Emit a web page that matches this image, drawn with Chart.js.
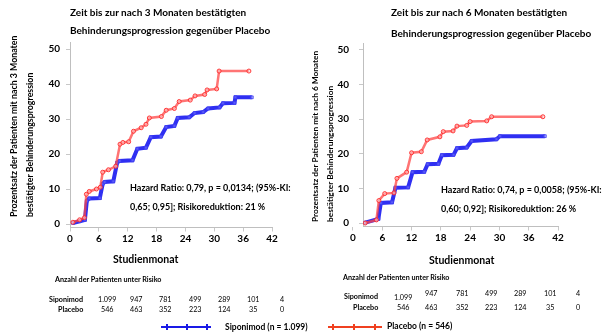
<!DOCTYPE html>
<html><head><meta charset="utf-8">
<script src="https://cdn.jsdelivr.net/npm/chart.js@4.4.1/dist/chart.umd.min.js"></script>
<style>
html,body{margin:0;padding:0;background:#fff;}
#stage{position:relative;width:604px;height:336px;overflow:hidden;font-family:Lato,"Open Sans",sans-serif;color:#000;}
canvas{position:absolute;top:0;}
.t{position:absolute;white-space:nowrap;color:#000;-webkit-font-smoothing:antialiased;}
</style></head>
<body><div id="stage">
<canvas id="c1" width="300" height="250" style="left:0px"></canvas>
<canvas id="c2" width="304" height="250" style="left:300px"></canvas>
</div>
<script>
// ---------- data ----------
const monthTicks = [0, 6, 12, 18, 24, 30, 36, 42];
const pctTicks = [0, 10, 20, 30, 40, 50];

// 3-month confirmed disability progression (left panel)
const cdp3SiponimodMonths = [0.6, 2.0, 3.1, 3.5, 4.0, 6.2, 6.8, 7.2, 9.0, 9.8, 10.3, 13.0, 14.0, 15.8, 16.8, 18.9, 20.0, 21.7, 22.4, 24.8, 25.9, 27.7, 28.7, 31.1, 31.8, 34.2, 34.4, 37.8];
const cdp3SiponimodPct    = [0.3, 0.8, 1.2, 6.6, 7.3, 7.4, 11.5, 12.0, 12.2, 17.5, 18.0, 18.2, 21.5, 21.8, 24.8, 25.0, 27.7, 28.0, 30.3, 30.5, 31.7, 32.0, 33.0, 33.3, 34.5, 34.6, 36.2, 36.2];
const cdp3PlaceboMonths   = [0.6, 2.0, 3.0, 3.4, 4.0, 5.5, 6.3, 6.8, 8.0, 9.5, 10.4, 11.0, 12.2, 13.2, 14.8, 15.8, 16.5, 19.0, 20.0, 21.7, 22.7, 25.0, 26.0, 28.0, 28.5, 30.5, 31.0, 37.2];
const cdp3PlaceboPct      = [0.5, 1.2, 1.8, 8.5, 9.3, 10.0, 10.5, 14.8, 15.5, 16.5, 22.8, 23.3, 23.5, 26.5, 27.5, 28.5, 30.3, 30.7, 32.5, 33.0, 35.0, 35.4, 36.6, 37.0, 38.3, 38.6, 43.7, 43.7];

// 6-month confirmed disability progression (right panel)
const cdp6SiponimodMonths = [2.5, 5.2, 5.7, 8.0, 8.7, 11.3, 12.2, 14.6, 15.3, 17.5, 18.2, 20.6, 21.3, 23.3, 24.3, 29.4, 30.1, 39.3];
const cdp6SiponimodPct    = [0.1, 1.2, 5.8, 6.0, 10.2, 10.3, 14.7, 14.8, 17.0, 17.1, 19.6, 19.7, 21.6, 21.8, 23.7, 24.2, 25.1, 25.1];
const cdp6PlaceboMonths   = [2.5, 4.8, 5.3, 6.5, 8.4, 9.0, 11.0, 12.0, 14.0, 15.2, 17.8, 18.5, 20.5, 21.3, 23.3, 24.0, 27.4, 28.4, 38.9];
const cdp6PlaceboPct      = [0.0, 0.9, 6.5, 8.5, 8.7, 12.9, 14.7, 20.3, 20.6, 24.0, 24.9, 26.4, 26.6, 28.0, 28.2, 29.3, 29.5, 30.7, 30.7];

// numbers at risk
const riskSiponimod = ['1.099', '947', '781', '499', '289', '101', '4'];
const riskPlacebo   = ['546', '463', '352', '223', '124', '35', '0'];

// ---------- helpers ----------
const stage = document.getElementById('stage');
function txt(s, x, cy, size, bold, align) {
  const d = document.createElement('div');
  d.className = 't';
  d.textContent = s;
  d.style.fontSize = size + 'px';
  d.style.lineHeight = '1';
  d.style.fontWeight = bold ? 'bold' : 'normal';
  stage.appendChild(d);
  const w = d.offsetWidth, h = d.offsetHeight;
  const left = align === 'center' ? x - w / 2 : align === 'right' ? x - w : x;
  d.style.left = Math.round(left) + 'px';
  d.style.top = Math.round(cy - h / 2) + 'px';
  return d;
}
function vtxt(s, cx, bottom, size) {
  const d = document.createElement('div');
  d.className = 't';
  d.textContent = s;
  d.style.fontSize = size + 'px';
  d.style.lineHeight = '10px';
  d.style.fontWeight = 'bold';
  d.style.left = (cx - 5) + 'px';
  d.style.top = bottom + 'px';
  d.style.transformOrigin = '0 0';
  d.style.transform = 'rotate(-90deg)';
  stage.appendChild(d);
}
function pts(m, p) { return m.map((v, i) => ({x: v, y: p[i]})); }

const BLUE = 'rgba(10,10,240,0.85)';
const RED = 'rgba(255,70,70,0.75)';
function sipSet(data) {
  return {data, borderColor: BLUE, borderWidth: 4, tension: 0,
    pointStyle: 'rect', pointRadius: 2, pointBorderWidth: 1,
    pointBorderColor: 'rgba(60,60,240,0.8)', pointBackgroundColor: 'rgba(120,120,255,0.6)'};
}
function pboSet(data) {
  return {data, borderColor: RED, borderWidth: 2.5, tension: 0,
    pointStyle: 'circle', pointRadius: 2, pointBorderWidth: 1,
    pointBorderColor: 'rgba(255,40,40,0.9)', pointBackgroundColor: 'rgba(255,200,200,0.6)'};
}

function kmChart(id, sets, xMin, a) {
  const tickFont = {family: 'Lato', size: 10, weight: 'bold'};
  return new Chart(document.getElementById(id), {
    type: 'line',
    data: {datasets: sets},
    options: {
      responsive: false, animation: false, devicePixelRatio: 1,
      layout: {padding: {left: 0, top: a.top, right: a.right, bottom: a.bottom}},
      plugins: {legend: {display: false}, tooltip: {enabled: false}},
      scales: {
        x: {type: 'linear', min: xMin, max: 42,
          afterBuildTicks: s => { s.ticks = monthTicks.map(v => ({value: v})); },
          afterFit: s => { s.height = 20; },
          grid: {display: true, drawOnChartArea: false, drawTicks: true, tickLength: 4, color: '#c8c8c8'},
          border: {display: true, color: '#bfbfbf', width: 1},
          ticks: {autoSkip: false, maxRotation: 0, padding: 1, color: '#000', font: tickFont}},
        y: {type: 'linear', min: -1, max: 52,
          afterBuildTicks: s => { s.ticks = pctTicks.map(v => ({value: v})); },
          afterFit: s => { s.width = a.yw; },
          grid: {display: true, drawOnChartArea: false, drawTicks: true, tickLength: 4, color: '#c8c8c8'},
          border: {display: true, color: '#bfbfbf', width: 1},
          ticks: {padding: a.ypad, color: '#000', font: tickFont}}
      }
    }
  });
}

kmChart('c1', [pboSet(pts(cdp3PlaceboMonths, cdp3PlaceboPct)), sipSet(pts(cdp3SiponimodMonths, cdp3SiponimodPct))],
  0, {top: 42, right: 28, bottom: 2.5, yw: 70, ypad: 6});
kmChart('c2', [pboSet(pts(cdp6PlaceboMonths, cdp6PlaceboPct)), sipSet(pts(cdp6SiponimodMonths, cdp6SiponimodPct))],
  2.05, {top: 43, right: 46, bottom: 3.5, yw: 63, ypad: 10});

// ---------- texts ----------
// left panel
txt('Zeit bis zur nach 3 Monaten bestätigten', 70, 12, 10, true, 'left');
txt('Behinderungsprogression gegenüber Placebo', 70, 30, 10, true, 'left');
vtxt('Prozentsatz der Patienten mit nach 3 Monaten', 14, 217, 8.8);
vtxt('bestätigter Behinderungsprogression', 30, 217, 8.8);
txt('Hazard Ratio: 0,79, p = 0,0134; (95%-KI:', 130, 187, 9, true, 'left');
txt('0,65; 0,95]; Risikoreduktion: 21 %', 130, 206, 9, true, 'left');
txt('Studienmonat', 145, 259, 10.5, true, 'center');
txt('Anzahl der Patienten unter Risiko', 55, 279, 7.2, true, 'left');
txt('Siponimod', 83, 299, 7.2, true, 'right');
txt('Placebo', 83, 309, 7.2, true, 'right');
const colL = [107, 136, 165, 195, 224, 253, 282];
riskSiponimod.forEach((v, i) => txt(v, colL[i], 299, 7.2, false, 'center'));
riskPlacebo.forEach((v, i) => txt(v, colL[i], 309, 7.2, false, 'center'));

// right panel
txt('Zeit bis zur nach 6 Monaten bestätigten', 391, 12, 10, true, 'left');
txt('Behinderungsprogression gegenüber Placebo', 391, 33, 10, true, 'left');
vtxt('Prozentsatz der Patienten mit nach 6 Monaten', 315, 222, 8.3);
vtxt('bestätigter Behinderungsprogression', 330, 222, 8.3);
txt('Hazard Ratio: 0,74, p = 0,0058; (95%-KI:', 441, 189, 9, true, 'left');
txt('0,60; 0,92]; Risikoreduktion: 26 %', 441, 208, 9, true, 'left');
txt('Studienmonat', 461, 260, 10.5, true, 'center');
txt('Anzahl der Patienten unter Risiko', 343, 277, 7.2, true, 'left');
txt('Siponimod', 378, 296, 7.2, true, 'right');
txt('Placebo', 378, 307, 7.2, true, 'right');
const colR = [403, 431, 462, 491, 520, 550, 578];
const upY = [297, 293, 293, 293, 293, 293, 293];
riskSiponimod.forEach((v, i) => txt(v, colR[i], upY[i], 7.2, false, 'center'));
riskPlacebo.forEach((v, i) => txt(v, colR[i], 307, 7.2, false, 'center'));

// legend
function swatch(x1, x2, y, color, marks) {
  const l = document.createElement('div');
  Object.assign(l.style, {position: 'absolute', left: x1 + 'px', top: (y - 1) + 'px', width: (x2 - x1) + 'px', height: '2px', background: color});
  stage.appendChild(l);
  marks.forEach(mx => {
    const m = document.createElement('div');
    Object.assign(m.style, {position: 'absolute', left: (mx - 1) + 'px', top: (y - 3) + 'px', width: '2px', height: '6px', background: color});
    stage.appendChild(m);
  });
}
swatch(161, 211, 327, '#1a1ae6', [167, 187, 207]);
txt('Siponimod (n = 1.099)', 225, 327, 8.5, true, 'left');
swatch(328, 382, 327, '#f04020', [333, 354, 375]);
txt('Placebo (n = 546)', 387, 326, 8.5, true, 'left');
</script>
</body></html>
